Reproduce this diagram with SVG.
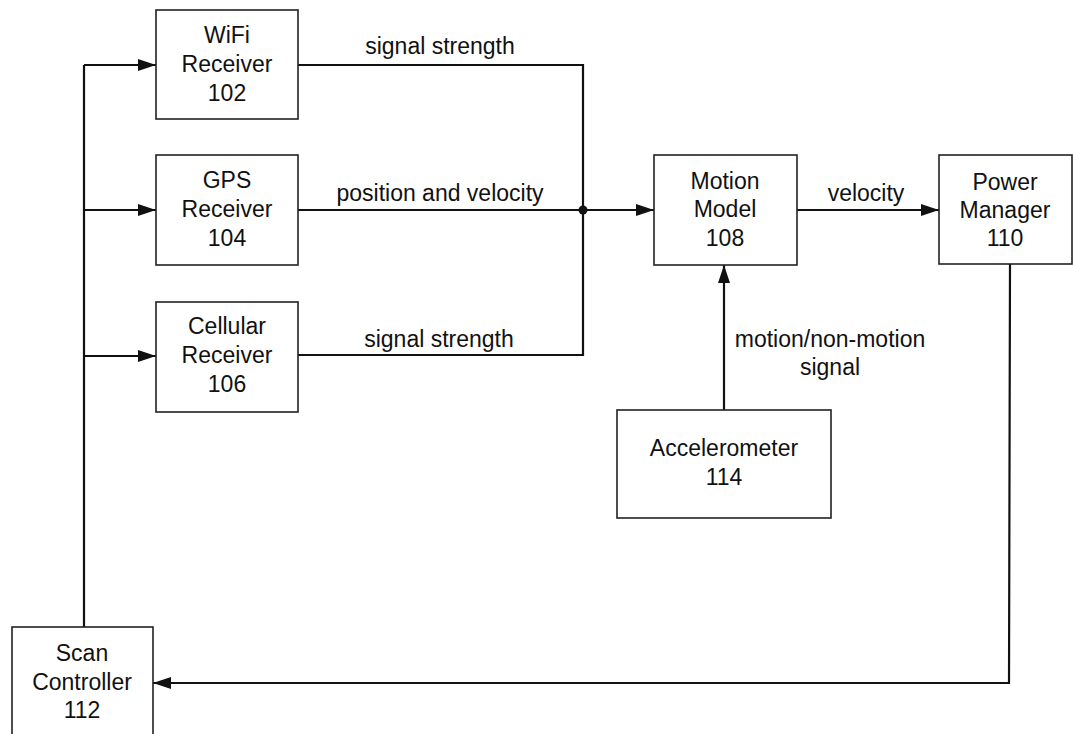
<svg xmlns="http://www.w3.org/2000/svg" width="1073" height="734" viewBox="0 0 1073 734">
  <style>
    .box { fill: #ffffff; stroke: #222; stroke-width: 1.6; }
    .wire { fill: none; stroke: #111; stroke-width: 2.2; }
    .arrow { marker-end: url(#head); }
    text { font-family: "Liberation Sans", Arial, sans-serif; font-size: 23px; fill: #111; text-anchor: middle; }
  </style>
  <defs>
    <marker id="head" markerUnits="userSpaceOnUse" markerWidth="20" markerHeight="12" refX="18" refY="6" orient="auto">
      <path d="M0,0 L18,6 L0,12 Z" fill="#111"/>
    </marker>
  </defs>
  <rect width="1073" height="734" fill="#ffffff"/>

  <!-- connectors -->
  <g id="connectors">
    <!-- scan controller fan-out to the three receivers -->
    <path class="wire" d="M84,627 L84,65"/>
    <path class="wire arrow" d="M84,65 L156,65"/>
    <path class="wire arrow" d="M84,210 L156,210"/>
    <path class="wire arrow" d="M84,356 L156,356"/>
    <!-- receiver outputs merging into the motion model -->
    <path class="wire" d="M298,65 L583,65 L583,355 L298,355"/>
    <path class="wire" d="M298,210 L583,210"/>
    <circle cx="583" cy="210" r="4.5" fill="#111"/>
    <path class="wire arrow" d="M583,210 L654,210"/>
    <!-- accelerometer into the motion model -->
    <path class="wire arrow" d="M724,410 L724,265"/>
    <!-- motion model to power manager -->
    <path class="wire arrow" d="M797,210 L939,210"/>
    <!-- power manager feedback to scan controller -->
    <path class="wire arrow" d="M1010,264 L1009,683 L153,683"/>

    <text x="440" y="54">signal strength</text>
    <text x="440" y="201">position and velocity</text>
    <text x="439" y="347">signal strength</text>
    <text x="866" y="201">velocity</text>
    <text x="830" y="347">motion/non-motion</text>
    <text x="830" y="375">signal</text>
  </g>

  <g id="wifi-receiver">
    <rect class="box" x="156" y="10" width="142" height="109"/>
    <text x="227" y="43">WiFi</text>
    <text x="227" y="72">Receiver</text>
    <text x="227" y="101">102</text>
  </g>

  <g id="gps-receiver">
    <rect class="box" x="156" y="155" width="142" height="110"/>
    <text x="227" y="188">GPS</text>
    <text x="227" y="217">Receiver</text>
    <text x="227" y="246">104</text>
  </g>

  <g id="cellular-receiver">
    <rect class="box" x="156" y="302" width="142" height="110"/>
    <text x="227" y="334">Cellular</text>
    <text x="227" y="363">Receiver</text>
    <text x="227" y="392">106</text>
  </g>

  <g id="motion-model">
    <rect class="box" x="654" y="155" width="143" height="110"/>
    <text x="725" y="189">Motion</text>
    <text x="725" y="217">Model</text>
    <text x="725" y="246">108</text>
  </g>

  <g id="power-manager">
    <rect class="box" x="939" y="155" width="133" height="109"/>
    <text x="1005" y="190">Power</text>
    <text x="1005" y="218">Manager</text>
    <text x="1005" y="246">110</text>
  </g>

  <g id="accelerometer">
    <rect class="box" x="617" y="410" width="214" height="108"/>
    <text x="724" y="456">Accelerometer</text>
    <text x="724" y="485">114</text>
  </g>

  <g id="scan-controller">
    <rect class="box" x="12" y="627" width="141" height="120"/>
    <text x="82" y="661">Scan</text>
    <text x="82" y="690">Controller</text>
    <text x="82" y="718">112</text>
  </g>
</svg>
